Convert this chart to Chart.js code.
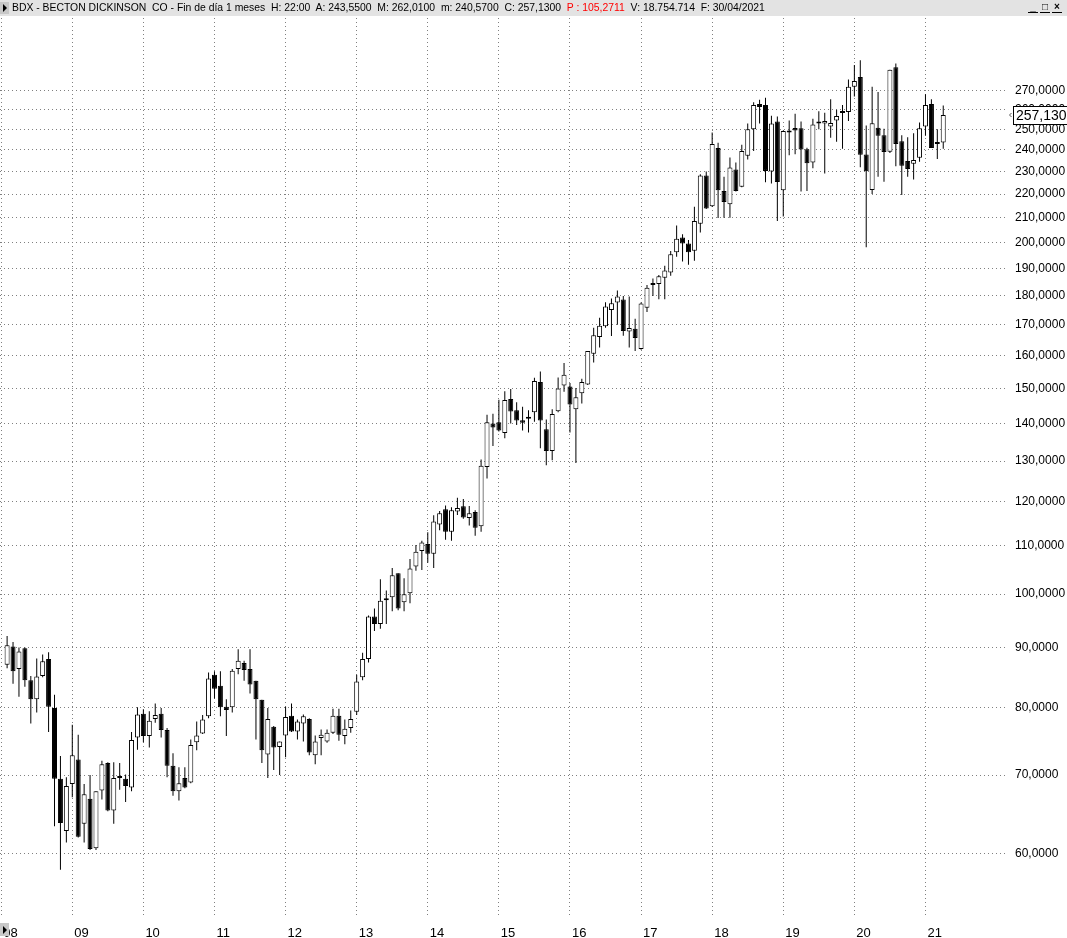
<!DOCTYPE html>
<html>
<head>
<meta charset="utf-8">
<title>BDX mensual</title>
<script src="https://cdn.jsdelivr.net/npm/chart.js@4.4.1/dist/chart.umd.min.js"></script>
<style>
  html, body { margin: 0; padding: 0; background: #fff; }
  #wrap { position: relative; width: 1067px; height: 938px; overflow: hidden; }
  #chart { position: absolute; left: 0; top: 0; }
  #titlebar {
    position: absolute; left: 0; top: 0; width: 1067px; height: 16px;
    background: #e3e3e3; color: #000; white-space: pre;
    font: 10.4px "Liberation Sans", Arial, sans-serif; line-height: 16px;
  }
  #titlebar .txt { position: absolute; left: 12px; top: 0; }
  #titlebar .red { color: #ff0000; }
  .tri { position: absolute; width: 9px; background: #c8c8c8; }
  .tri:after {
    content: ""; position: absolute; left: 3px; top: 50%; margin-top: -4px;
    border-left: 4px solid #000; border-top: 4px solid transparent; border-bottom: 4px solid transparent;
  }
  #winbtns { position: absolute; right: 5px; top: 2px; height: 12px; }
  #winbtns span {
    display: inline-block; width: 10px; height: 10px; margin-left: 2px; border-bottom: 1px solid #000;
    font: bold 10px "Liberation Sans", Arial, sans-serif; line-height: 10px; text-align: center; vertical-align: top;
  }
</style>
</head>
<body>
<div id="wrap">
  <canvas id="chart" width="1067" height="938"></canvas>
  <div id="titlebar">
    <div class="tri" style="left:0;top:2px;height:12px;"></div>
    <div class="txt">BDX - BECTON DICKINSON  CO - Fin de día 1 meses  H: 22:00  A: 243,5500  M: 262,0100  m: 240,5700  C: 257,1300  <span class="red">P : 105,2711</span>  V: 18.754.714  F: 30/04/2021</div>
    <div id="winbtns"><span>_</span><span>&#9633;</span><span>&#215;</span></div>
  </div>
  <div class="tri" style="left:0;top:923px;height:13px;"></div>
</div>
<script>
// Monthly candles, Feb 2008 - Apr 2021
const months = [
  "2008-02","2008-03","2008-04","2008-05","2008-06","2008-07","2008-08","2008-09","2008-10","2008-11","2008-12",
  "2009-01","2009-02","2009-03","2009-04","2009-05","2009-06","2009-07","2009-08","2009-09","2009-10","2009-11","2009-12",
  "2010-01","2010-02","2010-03","2010-04","2010-05","2010-06","2010-07","2010-08","2010-09","2010-10","2010-11","2010-12",
  "2011-01","2011-02","2011-03","2011-04","2011-05","2011-06","2011-07","2011-08","2011-09","2011-10","2011-11","2011-12",
  "2012-01","2012-02","2012-03","2012-04","2012-05","2012-06","2012-07","2012-08","2012-09","2012-10","2012-11","2012-12",
  "2013-01","2013-02","2013-03","2013-04","2013-05","2013-06","2013-07","2013-08","2013-09","2013-10","2013-11","2013-12",
  "2014-01","2014-02","2014-03","2014-04","2014-05","2014-06","2014-07","2014-08","2014-09","2014-10","2014-11","2014-12",
  "2015-01","2015-02","2015-03","2015-04","2015-05","2015-06","2015-07","2015-08","2015-09","2015-10","2015-11","2015-12",
  "2016-01","2016-02","2016-03","2016-04","2016-05","2016-06","2016-07","2016-08","2016-09","2016-10","2016-11","2016-12",
  "2017-01","2017-02","2017-03","2017-04","2017-05","2017-06","2017-07","2017-08","2017-09","2017-10","2017-11","2017-12",
  "2018-01","2018-02","2018-03","2018-04","2018-05","2018-06","2018-07","2018-08","2018-09","2018-10","2018-11","2018-12",
  "2019-01","2019-02","2019-03","2019-04","2019-05","2019-06","2019-07","2019-08","2019-09","2019-10","2019-11","2019-12",
  "2020-01","2020-02","2020-03","2020-04","2020-05","2020-06","2020-07","2020-08","2020-09","2020-10","2020-11","2020-12",
  "2021-01","2021-02","2021-03","2021-04"
];

const open = [
  87.0, 90.2, 86.3, 89.9, 84.4, 81.3, 85.1, 88.0, 79.9, 69.5, 62.7,
  68.8, 72.2, 63.6, 66.8, 60.6, 67.9, 71.7, 65.3, 69.8, 69.5, 68.3, 75.4,
  79.0, 75.6, 78.2, 79.0, 76.5, 71.3, 67.8, 69.6, 69.0, 74.7, 76.0, 78.6,
  85.3, 83.5, 80.1, 80.0, 86.3, 87.3, 86.3, 84.3, 81.2, 72.9, 77.0, 74.0,
  75.7, 78.7, 76.3, 77.5, 78.2, 72.8, 75.3, 74.8, 76.1, 78.7, 75.6, 76.8,
  79.3, 84.9, 88.0, 95.7, 94.3, 99.1, 99.4, 104.2, 98.4, 100.2, 105.6, 108.9,
  110.4, 108.3, 114.7, 118.2, 113.1, 117.7, 118.9, 116.2, 117.6, 114.3, 128.5, 140.0,
  140.3, 137.4, 146.9, 143.7, 140.9, 141.5, 143.1, 151.9, 138.4, 132.6, 143.4, 150.9,
  150.6, 144.0, 148.6, 151.2, 160.6, 166.0, 169.6, 175.1, 177.7, 178.7, 167.8, 168.7,
  162.1, 175.9, 184.1, 184.3, 186.6, 188.5, 196.2, 202.0, 199.6, 196.8, 207.5, 228.2,
  214.8, 240.9, 221.4, 215.7, 230.9, 223.2, 237.3, 250.0, 262.8, 262.3, 230.0, 253.9,
  221.7, 249.2, 250.6, 250.5, 240.3, 234.1, 253.6, 252.9, 251.4, 254.3, 258.8, 258.6,
  271.8, 277.1, 237.9, 221.8, 250.7, 247.1, 239.2, 282.5, 244.2, 234.8, 233.6, 236.4,
  251.4, 262.8, 243.5, 243.55
];

const high = [
  92.1, 91.0, 90.0, 90.0, 85.1, 88.1, 88.8, 89.2, 82.0, 72.7, 69.7,
  77.3, 75.8, 68.8, 70.0, 67.8, 72.0, 71.8, 71.8, 71.7, 70.1, 76.2, 80.0,
  79.7, 79.4, 80.6, 79.9, 76.8, 73.1, 71.1, 71.1, 75.1, 77.8, 78.8, 85.7,
  85.9, 85.9, 81.3, 86.3, 89.7, 87.7, 89.7, 84.3, 81.2, 79.9, 77.1, 74.8,
  80.1, 80.6, 78.1, 78.9, 78.3, 75.7, 76.6, 76.6, 79.8, 79.8, 78.1, 79.5,
  85.3, 89.1, 95.9, 97.2, 103.0, 100.7, 105.3, 104.2, 103.2, 107.2, 110.2, 111.1,
  113.0, 116.8, 117.8, 119.1, 118.7, 120.9, 120.6, 119.0, 118.0, 130.4, 142.4, 142.7,
  146.7, 149.2, 149.8, 146.0, 144.7, 143.7, 153.2, 155.1, 141.1, 144.0, 153.3, 157.7,
  151.6, 150.1, 152.9, 161.5, 169.1, 172.4, 177.8, 179.1, 181.9, 180.0, 179.8, 172.1,
  177.7, 183.9, 186.3, 187.6, 191.0, 196.7, 206.8, 203.3, 201.0, 214.6, 228.8, 230.0,
  248.4, 243.5, 227.7, 236.5, 234.1, 242.5, 252.9, 263.7, 265.0, 266.0, 256.8, 256.4,
  249.4, 254.4, 257.7, 253.9, 241.0, 255.2, 259.0, 258.3, 265.3, 259.8, 262.3, 275.7,
  283.8, 286.4, 251.9, 271.8, 269.0, 250.3, 281.1, 284.6, 247.1, 246.1, 248.1, 253.4,
  267.8, 265.3, 250.0, 262.01
];

const low = [
  86.4, 83.8, 81.7, 83.3, 77.5, 79.2, 84.9, 76.2, 63.3, 58.1, 61.3,
  67.0, 61.9, 61.3, 60.4, 60.4, 66.7, 65.2, 63.6, 68.0, 66.4, 67.8, 73.6,
  74.7, 73.9, 77.6, 75.4, 69.7, 67.2, 66.6, 68.2, 68.9, 73.5, 75.9, 78.3,
  81.4, 78.6, 75.6, 79.2, 85.4, 84.3, 82.2, 75.1, 71.7, 69.6, 70.7, 70.0,
  72.5, 76.2, 75.1, 74.8, 72.8, 71.5, 72.8, 74.6, 75.9, 74.9, 74.4, 76.1,
  78.8, 84.4, 87.4, 93.0, 93.4, 94.3, 96.7, 96.9, 96.7, 98.2, 104.7, 104.9,
  106.4, 105.3, 113.4, 111.3, 111.1, 116.9, 116.0, 114.5, 112.2, 113.1, 125.6, 133.9,
  137.8, 136.0, 140.0, 139.6, 138.1, 137.5, 140.5, 133.3, 128.9, 130.2, 143.1, 149.0,
  137.5, 129.5, 145.6, 151.0, 157.9, 162.6, 169.1, 166.3, 170.1, 166.4, 162.6, 161.5,
  161.9, 174.4, 180.0, 178.8, 178.8, 187.3, 194.5, 192.6, 191.4, 192.9, 204.0, 213.6,
  214.5, 209.9, 210.0, 210.0, 221.1, 223.0, 235.5, 239.5, 252.9, 225.2, 224.7, 208.6,
  210.5, 237.5, 238.0, 221.1, 221.4, 231.5, 250.0, 229.1, 245.8, 243.9, 240.6, 254.1,
  266.7, 232.0, 198.1, 220.0, 227.7, 225.4, 238.6, 232.4, 219.6, 227.7, 226.4, 234.5,
  246.8, 240.9, 235.8, 240.57
];

const close = [
  90.4, 85.9, 89.3, 84.4, 81.3, 85.0, 87.6, 80.1, 69.5, 63.7, 68.5,
  72.8, 62.0, 67.4, 60.5, 67.8, 71.5, 65.3, 69.6, 69.6, 68.5, 75.0, 78.9,
  75.6, 77.9, 78.8, 76.5, 71.3, 67.8, 68.9, 68.3, 74.3, 75.7, 78.1, 84.7,
  83.0, 80.0, 79.6, 86.0, 87.7, 86.1, 83.7, 81.3, 73.5, 78.2, 73.9, 74.8,
  78.5, 76.3, 77.8, 78.6, 73.2, 74.8, 75.8, 76.1, 78.7, 75.8, 76.7, 78.2,
  84.2, 88.0, 95.7, 94.3, 98.7, 98.8, 103.8, 97.2, 100.0, 105.2, 108.7, 110.7,
  108.3, 115.4, 117.3, 113.1, 118.0, 118.5, 116.3, 117.3, 114.0, 128.8, 140.3, 138.9,
  138.1, 146.6, 143.3, 140.8, 140.2, 141.3, 152.2, 140.8, 132.6, 142.6, 150.0, 154.1,
  145.3, 147.4, 151.9, 161.5, 166.6, 169.7, 176.3, 177.4, 179.8, 168.0, 169.0, 165.7,
  177.3, 182.9, 183.9, 187.1, 189.3, 195.4, 201.5, 199.6, 196.2, 208.7, 228.2, 213.9,
  242.9, 221.7, 216.6, 231.8, 221.4, 239.5, 250.0, 262.3, 261.2, 230.3, 252.9, 225.3,
  249.2, 248.4, 249.4, 240.2, 233.8, 252.4, 252.8, 254.1, 253.1, 256.6, 258.1, 271.8,
  275.0, 237.7, 230.2, 253.0, 246.8, 239.1, 281.1, 242.9, 232.7, 231.2, 235.3, 250.5,
  262.3, 240.9, 242.9, 257.13
];

// axis ticks
const yearLabels = ["08", "09", "10", "11", "12", "13", "14", "15", "16", "17", "18", "19", "20", "21"];
const priceTicks = [60, 70, 80, 90, 100, 110, 120, 130, 140, 150, 160, 170, 180, 190, 200,
  210, 220, 230, 240, 250, 260, 270];

const FONT = '"Liberation Sans", Arial, sans-serif';
const GRID = '#808080';

// month number counted from Jan 2008
const xIndex = months.map(m => {
  const [y, mo] = m.split('-').map(Number);
  return (y - 2008) * 12 + (mo - 1);
});

const wickData = months.map((m, i) => ({ x: xIndex[i], y: [low[i], high[i]] }));
const bodyData = months.map((m, i) => ({
  x: xIndex[i],
  y: [Math.min(open[i], close[i]), Math.max(open[i], close[i])]
}));
const bodyFill = months.map((m, i) => (close[i] >= open[i] ? '#ffffff' : '#000000'));

const fmtPrice = v => Number(v).toFixed(4).replace('.', ',');

// boxed last price on the right axis
const lastPriceTag = {
  id: 'lastPriceTag',
  afterDraw(chart) {
    const { ctx, chartArea, scales } = chart;
    const last = close[close.length - 1];
    const py = Math.round(scales.y.getPixelForValue(last));
    const left = chartArea.right + 5;
    ctx.save();
    ctx.fillStyle = '#fff';
    ctx.fillRect(left, py - 9, 80, 19);
    ctx.strokeStyle = '#000';
    ctx.lineWidth = 1;
    ctx.strokeRect(left + 0.5, py - 8.5, 80, 18);
    ctx.fillStyle = '#000';
    ctx.font = '14px ' + FONT;
    ctx.textBaseline = 'middle';
    ctx.fillText(fmtPrice(last), left + 3, py + 1);
    // small pointer
    ctx.strokeStyle = '#555';
    ctx.beginPath();
    ctx.moveTo(left - 1.5, py - 2);
    ctx.lineTo(left - 3.5, py);
    ctx.lineTo(left - 1.5, py + 2);
    ctx.stroke();
    ctx.restore();
  }
};

new Chart(document.getElementById('chart'), {
  type: 'bar',
  data: {
    datasets: [
      {
        label: 'cuerpo',
        data: bodyData,
        backgroundColor: bodyFill,
        borderColor: '#000',
        borderWidth: 1,
        borderSkipped: false,
        barThickness: 5,
        minBarLength: 2,
        inflateAmount: 0,
        grouped: false,
        order: 0
      },
      {
        label: 'mecha',
        data: wickData,
        backgroundColor: '#000',
        borderWidth: 0,
        barThickness: 1,
        inflateAmount: 0,
        grouped: false,
        order: 1
      }
    ]
  },
  options: {
    responsive: false,
    animation: false,
    devicePixelRatio: 1,
    layout: { padding: { top: 18, left: 0, right: 0, bottom: 0 } },
    plugins: {
      legend: { display: false },
      tooltip: { enabled: false }
    },
    scales: {
      x: {
        type: 'linear',
        min: -0.2,
        max: 169.93,
        offset: false,
        afterBuildTicks: s => { s.ticks = yearLabels.map((_, k) => ({ value: k * 12 })); },
        afterFit: s => { s.height = 20; s.paddingLeft = 0; s.paddingRight = 0; },
        grid: { color: GRID, lineWidth: 1, drawTicks: false, offset: false },
        border: { display: false, dash: [1, 3] },
        ticks: {
          autoSkip: false,
          maxRotation: 0,
          minRotation: 0,
          align: 'start',
          labelOffset: 2,
          padding: 8,
          color: '#000',
          font: { family: FONT, size: 13 },
          callback: (v, i) => yearLabels[i]
        }
      },
      y: {
        type: 'logarithmic',
        position: 'right',
        min: 52.82,
        max: 311.3,
        afterBuildTicks: s => { s.ticks = priceTicks.map(v => ({ value: v })); },
        afterFit: s => { s.width = 59; },
        grid: { color: GRID, lineWidth: 1, drawTicks: false },
        border: { display: false, dash: [1, 3] },
        ticks: {
          autoSkip: false,
          padding: 7,
          color: '#000',
          font: { family: FONT, size: 12 },
          callback: v => fmtPrice(v)
        }
      }
    }
  },
  plugins: [lastPriceTag]
});
</script>
</body>
</html>
